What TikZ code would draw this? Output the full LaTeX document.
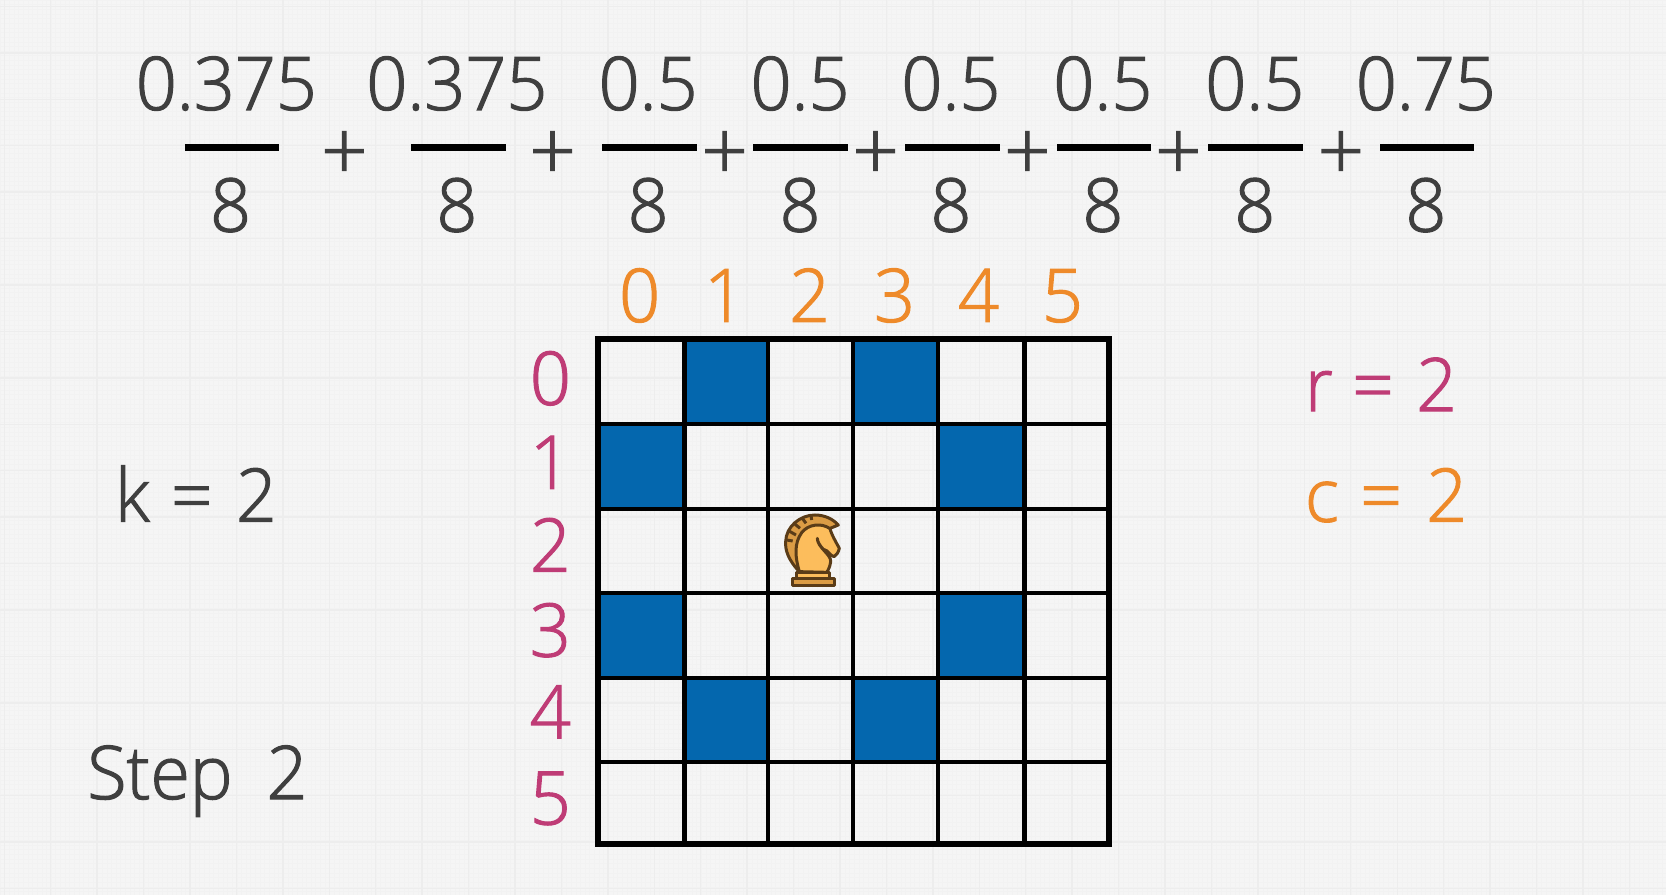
\documentclass[tikz,border=0pt]{standalone}
\usepackage{fontspec}
\setmainfont[FakeStretch=0.97,FakeBold=1.5]{Open Sans Light}
\definecolor{bgc}{HTML}{F5F5F5}
\definecolor{majorc}{HTML}{EDEDED}
\definecolor{minorc}{HTML}{F2F2F2}
\definecolor{inkc}{HTML}{3F3F3F}
\definecolor{orangec}{HTML}{EE8A2A}
\definecolor{pinkc}{HTML}{BF3C76}
\definecolor{bluec}{HTML}{0467AE}
\definecolor{knightl}{HTML}{FCBD5C}
\definecolor{knightd}{HTML}{DB9C45}
\definecolor{knighto}{HTML}{5A3C18}
\tikzset{
  txt/.style={anchor=base,inner sep=0pt,font=\fontsize{74}{74}\selectfont,text=inkc},
  plusn/.style={anchor=center,inner sep=0pt,font=\fontsize{84}{84}\selectfont,text=inkc},
  colnum/.style={txt,text=orangec},
  rownum/.style={txt,text=pinkc},
  fracbar/.style={line width=7.5pt,black},
  cellfill/.style={fill=bluec,draw=none},
  thin grid/.style={line width=4.5pt,black},
  outer grid/.style={line width=6pt,black},
  kn/.style={draw=knighto,line width=3pt,line join=round}
}
\begin{document}
\begin{tikzpicture}[x=1.0625pt,y=-1.0625pt]
\useasboundingbox (0,0) rectangle (1568,842.35);
\fill[bgc] (0,0) rectangle (1568,842.35);
\foreach \i in {0,...,360} \draw[minorc,line width=.5pt] ({\i*4.37},0) -- ({\i*4.37},842.35);
\foreach \i in {0,...,195} \draw[minorc,line width=.5pt] (0,{\i*4.37}) -- (1568,{\i*4.37});
\foreach \i in {0,...,36} \draw[majorc,line width=1.4pt] ({4+\i*43.7},0) -- ({4+\i*43.7},842.35);
\foreach \i in {0,...,19} \draw[majorc,line width=1.4pt] (0,{6+\i*43.7}) -- (1568,{6+\i*43.7});

% fractions
\foreach \n/\t/\tx/\bx/\ba/\bb in {a/0.375/213/217/174/263,b/0.375/430/430/387/476,c/0.5/610/610/567/656,d/0.5/753/753/709/798,e/0.5/895/895/852/941,f/0.5/1038/1038/995/1083,g/0.5/1181/1181/1137/1226,h/0.75/1342/1342/1299/1387}{
  \node[txt] (num\n) at (\tx,103.5) {\t};
  \node[txt] (den\n) at (\bx,218) {8};
  \coordinate (bl\n) at (\ba,139);
  \coordinate (br\n) at (\bb,139);
  \draw[fracbar] (bl\n) -- (br\n);
}
\foreach \n/\x in {p1/324,p2/520,p3/682,p4/824,p5/967,p6/1109,p7/1262}
  \node[plusn] (\n) at (\x,147) {+};

% cells
\foreach \xa/\xb/\ya/\yb in {644/723/319/399,803/883/319/399,563/644/399/479,883/964/399/479,563/644/558/638,883/964/558/638,644/723/638/717,803/883/638/717}
  \fill[cellfill] (\xa,\ya) rectangle (\xb,\yb);
% grid
\foreach \x in {644,723,803,883,964} \draw[thin grid] (\x,319) -- (\x,795);
\foreach \y in {399,479,558,638,717} \draw[thin grid] (563,\y) -- (1044,\y);
\draw[outer grid] (563,319) rectangle (1043.5,794.5);

% labels
\foreach \n/\t/\x in {c0/0/602,c1/1/682,c2/2/762,c3/3/842,c4/4/921,c5/5/1000}
  \node[colnum] (\n) at (\x,303) {\t};
\foreach \n/\t/\y in {r0/0/381,r1/1/460,r2/2/538,r3/3/618,r4/4/695,r5/5/776}
  \node[rownum] (\n) at (518,\y) {\t};
\node[rownum,anchor=base west] (rlab) at (1228,387) {r\hspace{1pt} = \hspace{4pt}2};
\node[colnum,anchor=base west] (clab) at (1228,491) {c\hspace{3pt} = \hspace{6pt}2};
\node[txt,anchor=base west] (klab) at (108,491) {k\hspace{3pt} = \hspace{5pt}2};
\node[txt,anchor=base west] (step) at (82,752) {Step\hspace{34pt}2};

% knight
\begin{scope}[shift={(677.65,432.94)},x=0.3333pt,y=-0.3333pt]
  \draw[kn,fill=knightd] (238,335) .. controls (205,300) and (195,270) .. (197,245)
     .. controls (198,200) and (240,165) .. (285,165)
     .. controls (315,165) and (340,178) .. (355,195) -- (328,206) -- (250,260) -- cycle;
  \draw[kn,fill=knightl] (238,335) .. controls (225,290) and (222,250) .. (245,218)
     .. controls (265,192) and (305,188) .. (330,206)
     .. controls (335,225) and (350,250) .. (358,265)
     .. controls (355,278) and (350,285) .. (342,290)
     .. controls (330,288) and (325,270) .. (310,268)
     .. controls (300,258) and (292,245) .. (292,235)
     .. controls (292,262) and (335,285) .. (332,305)
     .. controls (330,320) and (325,330) .. (320,337) -- cycle;
  \draw[kn] (200,240) -- (218,243) (205,212) -- (228,225) (222,190) -- (240,205)
     (247,175) -- (258,190) (273,167) -- (275,180);
  \draw[kn,fill=knightl] (230,337) rectangle (330,355);
  \draw[kn,fill=knightd] (218,355) rectangle (345,378);
\end{scope}
\end{tikzpicture}
\end{document}
